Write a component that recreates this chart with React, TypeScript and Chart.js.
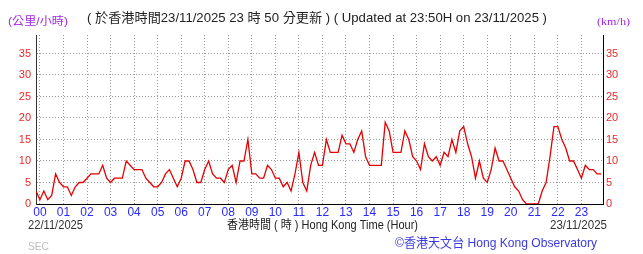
import React, { useEffect, useRef } from "react";
import { Chart, registerables } from "chart.js";

Chart.register(...registerables);

// Hour tick labels (x axis) and wind-speed tick labels (y axes)
const HOUR_LABELS = [
  "00", "01", "02", "03", "04", "05", "06", "07", "08", "09", "10", "11",
  "12", "13", "14", "15", "16", "17", "18", "19", "20", "21", "22", "23",
];
const Y_TICKS = [0, 5, 10, 15, 20, 25, 30, 35];

// 10-minute mean wind speed (km/h), starting 23:50 of 22/11 (-10 min) to 23:50 of 23/11
const SPEED_KMH = [
  3,
  1, 3, 1, 2, 7, 5, // 00
  4, 4, 2, 4, 5, 5, // 01
  6, 7, 7, 7, 9, 6, // 02
  5, 6, 6, 6, 10, 9, // 03
  8, 8, 8, 6, 5, 4, // 04
  4, 5, 7, 8, 6, 4, // 05
  6, 10, 10, 8, 5, 5, // 06
  8, 10, 7, 6, 6, 5, // 07
  8, 9, 5, 10, 10, 15, // 08
  7, 7, 6, 6, 9, 8, // 09
  6, 6, 4, 5, 3, 7, // 10
  12, 5, 3, 9, 12, 9, // 11
  9, 15, 12, 12, 12, 16, // 12
  14, 14, 12, 15, 17, 11, // 13
  9, 9, 9, 9, 19, 17, // 14
  12, 12, 12, 17, 15, 11, // 15
  10, 8, 14, 11, 10, 11, // 16
  9, 12, 11, 15, 12, 17, // 17
  18, 14, 11, 6, 10, 6, // 18
  5, 8, 13, 10, 10, 8, // 19
  6, 4, 3, 1, 0, 0, // 20
  0, 0, 3, 5, 11, 18, // 21
  18, 15, 13, 10, 10, 8, // 22
  6, 9, 8, 8, 7, 7, // 23
];
// Minutes from midnight of 23/11 for each reading (one reading every 10 minutes)
const TIMES_MIN = SPEED_KMH.map((_, i) => -10 + i * 10);

const HEADER_UNIT_ZH = "(公里/小時)";
const HEADER_UPDATED =
  "( 於香港時間23/11/2025 23 時 50 分更新 ) ( Updated at 23:50H on 23/11/2025 )";
const HEADER_UNIT_EN = "(km/h)";
const DATE_START = "22/11/2025";
const DATE_END = "23/11/2025";
const X_TITLE = "香港時間 ( 時 ) Hong Kong Time (Hour)";
const STATION = "SEC";
const CREDIT = "©香港天文台 Hong Kong Observatory";

function drawFit(
  ctx: CanvasRenderingContext2D,
  text: string,
  x: number,
  y: number,
  width: number,
  font: string,
  color: string
) {
  ctx.save();
  ctx.font = font;
  ctx.fillStyle = color;
  ctx.textBaseline = "middle";
  ctx.textAlign = "left";
  const m = ctx.measureText(text).width || 1;
  ctx.translate(x, y);
  ctx.scale(width / m, 1);
  ctx.fillText(text, 0, 0);
  ctx.restore();
}

const textPlugin = {
  id: "hkoTexts",
  afterDraw(chart: any) {
    const ctx = chart.ctx as CanvasRenderingContext2D;
    const sans = "'Liberation Sans', 'Noto Sans CJK TC', sans-serif";
    drawFit(ctx, HEADER_UNIT_ZH, 8, 22, 60, `11px ${sans}`, "#a028e8");
    drawFit(ctx, HEADER_UPDATED, 87, 18.5, 460, `13px ${sans}`, "#222222");
    drawFit(ctx, HEADER_UNIT_EN, 597, 22.5, 33, "11px 'Liberation Serif', 'DejaVu Serif', serif", "#a028e8");
    drawFit(ctx, DATE_START, 28, 225.5, 55, `12px ${sans}`, "#333333");
    drawFit(ctx, X_TITLE, 227, 225.5, 191, `12px ${sans}`, "#222222");
    drawFit(ctx, DATE_END, 550, 225.5, 57, `12px ${sans}`, "#333333");
    drawFit(ctx, STATION, 28, 247, 21, `11px ${sans}`, "#bbbbbb");
    drawFit(ctx, CREDIT, 395, 243, 202, `13px ${sans}`, "#3a3ae0");
  },
};

export default function App() {
  const ref = useRef<HTMLCanvasElement | null>(null);

  useEffect(() => {
    if (!ref.current) return;
    const yTickFont = { family: "'Liberation Sans Narrow', 'Liberation Sans', sans-serif", size: 11 };
    const chart = new Chart(ref.current, {
      type: "line",
      data: {
        datasets: [
          {
            data: TIMES_MIN.map((t, i) => ({ x: t, y: SPEED_KMH[i] })),
            borderColor: "#e60000",
            borderWidth: 1.3,
            pointRadius: 0,
            tension: 0,
            fill: false,
          },
        ],
      },
      plugins: [textPlugin],
      options: {
        animation: false,
        responsive: false,
        devicePixelRatio: 1,
        layout: { padding: { top: 35, left: 0, right: 0, bottom: 0 } },
        plugins: { legend: { display: false }, tooltip: { enabled: false } },
        scales: {
          x: {
            type: "linear",
            min: -10,
            max: 1435,
            afterBuildTicks: (scale: any) => {
              scale.ticks = HOUR_LABELS.map((_, h) => ({ value: h * 60 }));
            },
            afterFit: (scale: any) => {
              scale.height = 50;
            },
            ticks: {
              autoSkip: false,
              maxRotation: 0,
              padding: 1,
              color: "#2a2aff",
              font: { family: "'Liberation Sans', sans-serif", size: 12 },
              callback: (v: any) => HOUR_LABELS[Math.round(Number(v) / 60)] ?? "",
            },
            grid: { color: "#9a9a9a", lineWidth: 1, drawTicks: false },
            border: { display: true, color: "#000000", width: 1, dash: [1, 2] },
          },
          y: {
            position: "left",
            min: 0,
            max: 39.3,
            afterBuildTicks: (scale: any) => {
              scale.ticks = Y_TICKS.map((v) => ({ value: v }));
            },
            afterFit: (scale: any) => {
              scale.width = 36;
            },
            ticks: {
              padding: 5,
              color: "#e82828",
              font: yTickFont,
            },
            grid: {
              color: (c: any) => (c.tick && c.tick.value === 0 ? "rgba(0,0,0,0)" : "#9a9a9a"),
              lineWidth: 1,
              drawTicks: false,
            },
            border: { display: true, color: "#333333", width: 1, dash: [1, 2] },
          },
          y2: {
            position: "right",
            min: 0,
            max: 39.3,
            afterBuildTicks: (scale: any) => {
              scale.ticks = Y_TICKS.map((v) => ({ value: v }));
            },
            afterFit: (scale: any) => {
              scale.width = 40;
            },
            ticks: {
              padding: 3,
              color: "#e82828",
              font: yTickFont,
            },
            grid: { drawOnChartArea: false, drawTicks: false },
            border: { display: true, color: "#000000", width: 1 },
          },
        },
      },
    } as any);
    return () => chart.destroy();
  }, []);

  return (
    <div style={{ position: "fixed", left: 0, top: 0, width: 643, height: 254, background: "#ffffff" }}>
      <canvas ref={ref} width={643} height={254} style={{ display: "block" }} />
    </div>
  );
}
